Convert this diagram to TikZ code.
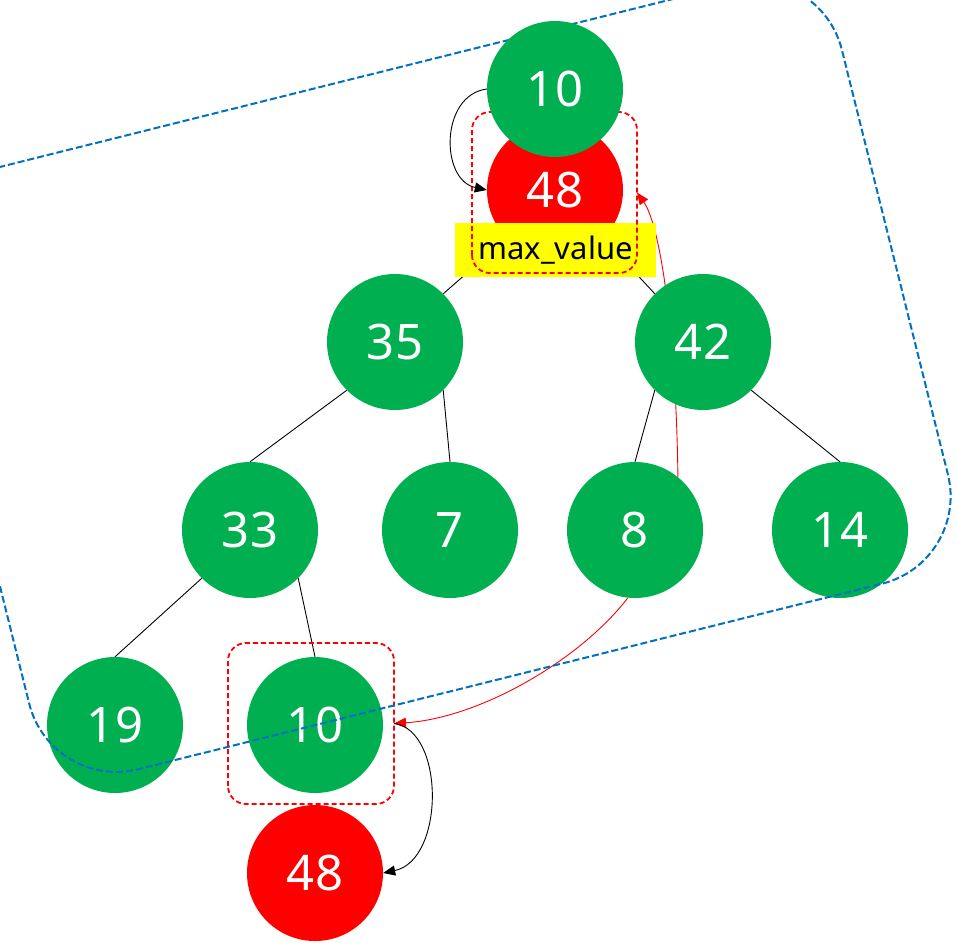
\documentclass[tikz,border=0pt]{standalone}
\usepackage{fontspec}
\setmainfont{Noto Sans}
\usetikzlibrary{arrows.meta,backgrounds}
\definecolor{pgreen}{HTML}{00B050}
\definecolor{pred}{HTML}{FF0000}
\definecolor{pyellow}{HTML}{FFFF00}
\definecolor{pblue}{HTML}{0070C0}
\tikzset{
  gnode/.style={circle, fill=pgreen, minimum size=136pt, inner sep=0pt, text=white, font=\fontsize{49}{52}\selectfont},
  rnode/.style={gnode, fill=pred},
  edge/.style={black, line width=0.9pt},
  redarrow/.style={pred, line width=0.9pt},
  selbox/.style={draw=pred, line width=1.8pt, dash pattern=on 5pt off 3pt, rounded corners=18pt},
  tip/.style={-{Triangle[length=12pt,width=10pt]}},
}
\begin{document}
\begin{tikzpicture}[x=1pt,y=-1pt]
\path[use as bounding box] (0,0) rectangle (957,945);
\clip (0,0) rectangle (957,945);
\coordinate (cTop) at (555,89);
\node[rnode] (m48) at (555,190) {48};
\node[gnode] (n35) at (395,342) {35};
\node[gnode] (n42) at (703,342) {42};
\node[gnode] (n33) at (250,530) {33};
\node[gnode] (n7) at (450,530) {7};
\node[gnode] (n8) at (635,530) {8};
\node[gnode] (n14) at (840,530) {14};
\node[gnode] (n19) at (115,725) {19};
\node[gnode] (n10b) at (315,725) {10};
\node[rnode] (b48) at (315,873) {48};
\coordinate (selTopNE) at (637,112);
\coordinate (selTopSW) at (472,273);
\coordinate (selBotNE) at (394,643);
\coordinate (selBotSW) at (228,804);
\coordinate (selTopE) at (637,192.5);
\coordinate (selBotE) at (394,723.5);
% tree edges and red curves behind the nodes
\begin{scope}[on background layer]
\draw[edge] (m48.225) -- (n35.45);
\draw[edge] (m48.315) -- (n42.135);
\draw[edge] (n35.225) -- (n33.north);
\draw[edge] (n35.315) -- (n7.north);
\draw[edge] (n42.225) -- (n8.north);
\draw[edge] (n42.315) -- (n14.north);
\draw[edge] (n33.225) -- (n19.north);
\draw[edge] (n33.315) -- (n10b.north);
\draw[redarrow, tip] (n8.51) .. controls (676,330) and (660,225) .. (selTopE);
\draw[redarrow, tip] (n8.264) .. controls (580,660) and (480,718) .. (selBotE);
\end{scope}
\node[fill=pyellow, minimum width=201pt, minimum height=54pt, inner sep=0pt, font=\fontsize{31}{34}\selectfont] (lab) at (555.5,250) {max\_value};
\draw[selbox] (selTopSW) rectangle (selTopNE);
\draw[selbox] (selBotSW) rectangle (selBotNE);
% blue rotated rounded rectangle
\coordinate (bMid) at (-23.75,491.25);
\coordinate (bTL) at (-98.5,191.5);
\coordinate (bTR) at (820,-37.7);
\coordinate (bBR) at (969.7,561.8);
\coordinate (bBL) at (51,791);
\draw[pblue, line width=2pt, dash pattern=on 7pt off 3pt, rounded corners=90pt] (bMid) -- (bTL) -- (bTR) -- (bBR) -- (bBL) -- cycle;
\node[gnode] (t10) at (cTop) {10};
% curved arrows
\draw[edge, tip] (t10.west) .. controls (440,95) and (440,180) .. (m48.west);
\draw[edge, tip] (selBotE) .. controls (445,730) and (445,860) .. (b48.east);
\end{tikzpicture}
\end{document}
